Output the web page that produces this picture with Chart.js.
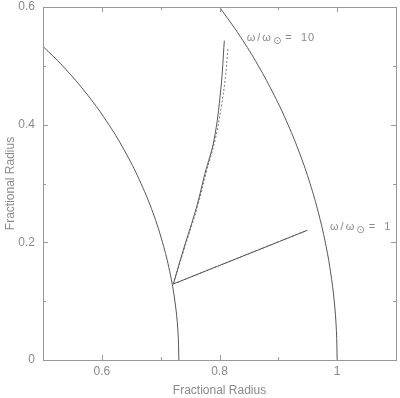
<!DOCTYPE html>
<html>
<head>
<meta charset="utf-8">
<script src="https://cdn.jsdelivr.net/npm/chart.js@4/dist/chart.umd.min.js"></script>
<style>
  body { margin: 0; background: #fff; }
  #wrap { width: 400px; height: 398px; }
</style>
</head>
<body>
<div id="wrap"><canvas id="c" width="400" height="398"></canvas></div>
<script>
// inner boundary (radius ~0.73)
const innerArcX = [0.5, 0.5333, 0.5761, 0.6119, 0.6418, 0.6666, 0.6870, 0.7031, 0.7155, 0.7242, 0.7293, 0.7310];
const innerArcY = [0.533, 0.5, 0.45, 0.4, 0.35, 0.3, 0.25, 0.2, 0.15, 0.1, 0.05, 0];
// outer surface (radius 1)
const outerArcX = [0.8, 0.8352, 0.8660, 0.8930, 0.9165, 0.9367, 0.9539, 0.9682, 0.9798, 0.9887, 0.9950, 0.9987, 1.0];
const outerArcY = [0.6, 0.55, 0.5, 0.45, 0.4, 0.35, 0.3, 0.25, 0.2, 0.15, 0.1, 0.05, 0];
// omega/omega_sun = 10
const omega10X = [0.7215, 0.7385, 0.7612, 0.7754, 0.7907, 0.8021, 0.8082];
const omega10Y = [0.1292, 0.1870, 0.2606, 0.3173, 0.3740, 0.4590, 0.5428];
const omega10DashX = [0.7215, 0.7395, 0.7625, 0.7770, 0.7925, 0.8030, 0.8100, 0.8145];
const omega10DashY = [0.1292, 0.1870, 0.2606, 0.3173, 0.3740, 0.4300, 0.4800, 0.5315];
// omega/omega_sun = 1
const omega1X = [0.7215, 0.9493];
const omega1Y = [0.1292, 0.2205];

const xTicks = [0.6, 0.8, 1.0];
const yTicks = [0, 0.2, 0.4, 0.6];

const labels = [
    { x: 0.8462, y: 0.5414, main: 'ω/ω', sub: '⊙', rest: ' =  10' },
    { x: 0.9878, y: 0.2205, main: 'ω/ω', sub: '⊙', rest: ' =  1' }
];

function pts(xs, ys) {
    return xs.map((x, i) => ({ x: x, y: ys[i] }));
}

const lineCol = '#555';
const dashCol = '#777';
const textCol = '#8a8a8a';
const frameCol = '#999';

function ds(xs, ys, dash) {
    return {
        data: pts(xs, ys),
        showLine: true,
        borderColor: dash ? dashCol : lineCol,
        borderWidth: 1,
        borderDash: dash || [],
        pointRadius: 0,
        tension: 0.4,
        fill: false
    };
}

// frame with inside ticks on all four sides, plus the curve labels
const framePlugin = {
    id: 'frame',
    afterDatasetsDraw(chart) {
        const ctx = chart.ctx;
        const a = chart.chartArea;
        const xs = chart.scales.x, ys = chart.scales.y;
        ctx.save();
        ctx.strokeStyle = frameCol;
        ctx.lineWidth = 1;
        ctx.strokeRect(Math.round(a.left) + 0.5, Math.round(a.top) + 0.5,
            Math.round(a.right - a.left), Math.round(a.bottom - a.top));
        ctx.beginPath();
        for (let i = 5; i <= 11; i++) {
            const v = i / 10;
            const len = (i % 2 === 0) ? 5 : 3;
            const px = Math.round(xs.getPixelForValue(v)) + 0.5;
            ctx.moveTo(px, a.bottom); ctx.lineTo(px, a.bottom - len);
            ctx.moveTo(px, a.top); ctx.lineTo(px, a.top + len);
        }
        for (let i = 0; i <= 6; i++) {
            const v = i / 10;
            const len = (i % 2 === 0) ? 5 : 3;
            const py = Math.round(ys.getPixelForValue(v)) + 0.5;
            ctx.moveTo(a.left, py); ctx.lineTo(a.left + len, py);
            ctx.moveTo(a.right, py); ctx.lineTo(a.right - len, py);
        }
        ctx.stroke();

        ctx.fillStyle = textCol;
        ctx.textBaseline = 'alphabetic';
        ctx.textAlign = 'left';
        labels.forEach(l => {
            let px = xs.getPixelForValue(l.x);
            const py = ys.getPixelForValue(l.y);
            ctx.font = '11px "Liberation Sans", Arial, sans-serif';
            ctx.letterSpacing = '2px';
            ctx.fillText(l.main, px, py);
            px += ctx.measureText(l.main).width;
            ctx.font = '10px "DejaVu Sans", sans-serif';
            ctx.letterSpacing = '0px';
            ctx.fillText(l.sub, px, py + 3);
            px += ctx.measureText(l.sub).width;
            ctx.font = '11px "Liberation Sans", Arial, sans-serif';
            ctx.letterSpacing = '1px';
            ctx.fillText(l.rest, px, py);
        });
        ctx.restore();
    }
};

new Chart(document.getElementById('c'), {
    type: 'scatter',
    data: {
        datasets: [
            ds(innerArcX, innerArcY),
            ds(outerArcX, outerArcY),
            ds(omega10X, omega10Y),
            ds(omega10DashX, omega10DashY, [2, 2]),
            ds(omega1X, omega1Y),
            ds(omega1X, omega1Y, [2, 2])
        ]
    },
    options: {
        responsive: false,
        animation: false,
        layout: { padding: { top: 7, right: 4, left: 0, bottom: 0 } },
        plugins: { legend: { display: false }, tooltip: { enabled: false } },
        scales: {
            x: {
                min: 0.5, max: 1.1,
                grid: { display: false, drawTicks: false },
                border: { display: false },
                afterFit: s => { s.height = 38; s.paddingLeft = 0; s.paddingRight = 0; },
                ticks: {
                    stepSize: 0.1,
                    padding: 4,
                    color: textCol,
                    font: { family: '"Liberation Sans", Arial, sans-serif', size: 12 },
                    maxRotation: 0,
                    autoSkip: false,
                    callback: v => xTicks.some(t => Math.abs(t - v) < 1e-6) ? String(Math.round(v * 10) / 10) : ''
                },
                title: {
                    display: true, text: 'Fractional Radius', color: textCol,
                    font: { family: '"Liberation Sans", Arial, sans-serif', size: 12 },
                    padding: { top: 0, bottom: 0 }
                }
            },
            y: {
                min: 0, max: 0.6,
                grid: { display: false, drawTicks: false },
                border: { display: false },
                afterFit: s => { s.width = 43; s.paddingTop = 0; s.paddingBottom = 0; },
                ticks: {
                    stepSize: 0.1,
                    padding: 8,
                    color: textCol,
                    font: { family: '"Liberation Sans", Arial, sans-serif', size: 12 },
                    autoSkip: false,
                    callback: v => yTicks.some(t => Math.abs(t - v) < 1e-6) ? String(Math.round(v * 10) / 10) : ''
                },
                title: {
                    display: true, text: 'Fractional Radius', color: textCol,
                    font: { family: '"Liberation Sans", Arial, sans-serif', size: 12 },
                    padding: { top: 3, bottom: 0 }
                }
            }
        }
    },
    plugins: [framePlugin]
});
</script>
</body>
</html>
